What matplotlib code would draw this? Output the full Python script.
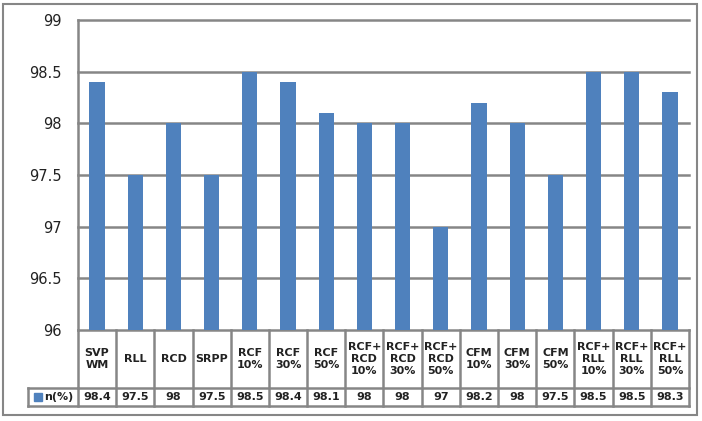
import matplotlib.pyplot as plt
from matplotlib.patches import Rectangle

categories = ["SVP\nWM", "RLL", "RCD", "SRPP", "RCF\n10%", "RCF\n30%", "RCF\n50%",
              "RCF+\nRCD\n10%", "RCF+\nRCD\n30%", "RCF+\nRCD\n50%",
              "CFM\n10%", "CFM\n30%", "CFM\n50%",
              "RCF+\nRLL\n10%", "RCF+\nRLL\n30%", "RCF+\nRLL\n50%"]
values = [98.4, 97.5, 98, 97.5, 98.5, 98.4, 98.1, 98, 98, 97, 98.2, 98, 97.5, 98.5, 98.5, 98.3]
value_labels = ["98.4", "97.5", "98", "97.5", "98.5", "98.4", "98.1", "98", "98", "97",
                "98.2", "98", "97.5", "98.5", "98.5", "98.3"]
series_name = "n(%)"
yticks = [96, 96.5, 97, 97.5, 98, 98.5, 99]
ytick_labels = ["96", "96.5", "97", "97.5", "98", "98.5", "99"]

bar_color = "#4F81BD"
line_color = "#868686"

W, H = 702, 421
fig = plt.figure(figsize=(W / 100, H / 100), dpi=100)
fig.patch.set_facecolor("white")

# outer frame
fig.add_artist(Rectangle((3 / W, 6 / H), 694 / W, 411 / H, transform=fig.transFigure,
                         fill=False, edgecolor=line_color, linewidth=1.5))

left, right, top, bottom = 78, 689, 20, 330
ax = fig.add_axes([left / W, (H - bottom) / H, (right - left) / W, (bottom - top) / H])

n = len(categories)
x = list(range(n))
ax.bar(x, [v - 96 for v in values], bottom=96, width=0.4, color=bar_color, zorder=3)
ax.set_xlim(-0.5, n - 0.5)
ax.set_ylim(96, 99)
ax.set_yticks(yticks)
ax.set_yticklabels(ytick_labels, fontsize=10.5, color="#222222")
ax.tick_params(axis="y", length=0, pad=11.5)
ax.set_xticks([])
ax.yaxis.grid(True, color=line_color, linewidth=1.8, zorder=0)
for gl in ax.get_ygridlines():
    gl.set_clip_on(False)
for s in ["top", "right", "bottom"]:
    ax.spines[s].set_visible(False)
ax.spines["left"].set_color(line_color)
ax.spines["left"].set_linewidth(1.8)

# data table under the plot
ax_h = bottom - top
y_cat = -58 / ax_h
y_val = -76 / ax_h
trans = ax.get_xaxis_transform()
kw = dict(transform=trans, clip_on=False, color=line_color, linewidth=1.8)
x_leg = -0.5 - (left - 28) / ((right - left) / n)

ax.plot([-0.5, n - 0.5], [y_cat, y_cat], **kw)
ax.plot([x_leg, n - 0.5], [y_val, y_val], **kw)
ax.plot([x_leg, -0.5], [y_cat, y_cat], **kw)
ax.plot([x_leg, x_leg], [y_cat, y_val], **kw)
ax.plot([-0.5, -0.5], [0, y_val], **kw)
for i in range(n):
    ax.plot([i + 0.5, i + 0.5], [0, y_val], **kw)

for i, (c, v) in enumerate(zip(categories, value_labels)):
    ax.text(i, y_cat / 2, c, transform=trans, ha="center", va="center",
            fontsize=8, fontweight="bold", color="#222222", linespacing=1.3)
    ax.text(i, (y_cat + y_val) / 2, v, transform=trans, ha="center", va="center",
            fontsize=8, fontweight="bold", color="#222222")

# legend key in the table
ax.add_patch(Rectangle((x_leg + 0.15, (y_cat + y_val) / 2 - 0.012), 0.22, 0.024,
                       transform=trans, clip_on=False, color=bar_color))
ax.text(x_leg + 0.42, (y_cat + y_val) / 2, series_name, transform=trans, ha="left", va="center",
        fontsize=8, fontweight="bold", color="#222222")

fig.savefig("out.png", dpi=100)
